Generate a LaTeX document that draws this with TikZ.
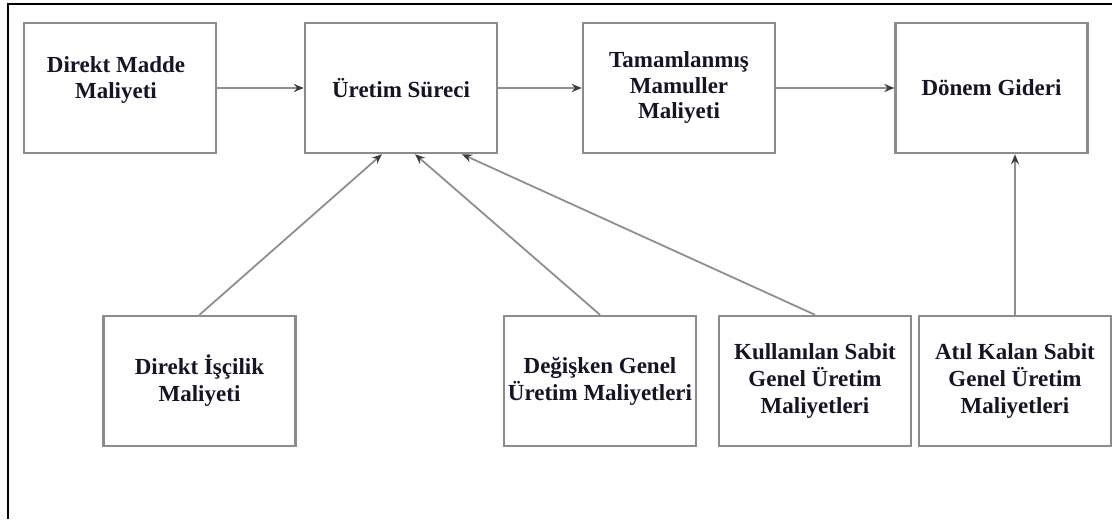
\documentclass[tikz,border=0pt]{standalone}
\usepackage{fontspec}
\setmainfont{Liberation Serif}
\usetikzlibrary{arrows.meta}
\definecolor{boxgray}{HTML}{8C8C8C}
\definecolor{linegray}{HTML}{8F8F8F}
\definecolor{tipgray}{HTML}{3C3C3C}
\definecolor{txtcol}{HTML}{151526}
\begin{document}
\begin{tikzpicture}[x=1pt,y=-1pt,
  box/.style={draw=boxgray,line width=2.4pt,minimum width=192pt,minimum height=130pt,inner sep=0pt,fill=white},
  lbl/.style={font=\bfseries\fontsize{23}{25.5}\selectfont,text=txtcol,align=center,inner sep=0pt},
  lblb/.style={font=\bfseries\fontsize{23}{26.8}\selectfont,text=txtcol,align=center,inner sep=0pt},
  conn/.style={draw=linegray,line width=1.8pt,-{Stealth[length=10pt,width=8pt,color=tipgray]}}
]
\useasboundingbox (0,0) rectangle (1118,519);
\draw[line width=2pt] (7.5,519) -- (7.5,4.5) -- (1112,4.5);

% top row
\node[box] (n1) at (120,88) {};
\node[lbl] (t1) at (116,80) {Direkt Madde\\Maliyeti};
\node[box,lbl] (n2) at (401,88) {Üretim Süreci};
\node[box,lbl] (n3) at (679,88) {Tamamlanmış\\Mamuller\\Maliyeti};
\node[box,lbl] (n4) at (991.5,88) {Dönem Gideri};

% bottom row
\node[box,lblb] (n5) at (199.5,381) {Direkt İşçilik\\Maliyeti};
\node[box,lblb] (n6) at (600,381) {Değişken Genel\\Üretim Maliyetleri};
\node[box,lblb] (n7) at (815,381) {Kullanılan Sabit\\Genel Üretim\\Maliyetleri};
\node[box,lblb] (n8) at (1015,381) {Atıl Kalan Sabit\\Genel Üretim\\Maliyetleri};

% connectors
\draw[conn] (n1) -- (n2);
\draw[conn] (n2) -- (n3);
\draw[conn] (n3) -- (n4);
\draw[conn] (n5.north) -- ([xshift=-19pt]n2.south);
\draw[conn] (n6.north) -- ([xshift=14pt]n2.south);
\draw[conn] (n7.north) -- ([xshift=61pt]n2.south);
\draw[conn] (n8.north) -- (n8.north |- n4.south);
\end{tikzpicture}
\end{document}
